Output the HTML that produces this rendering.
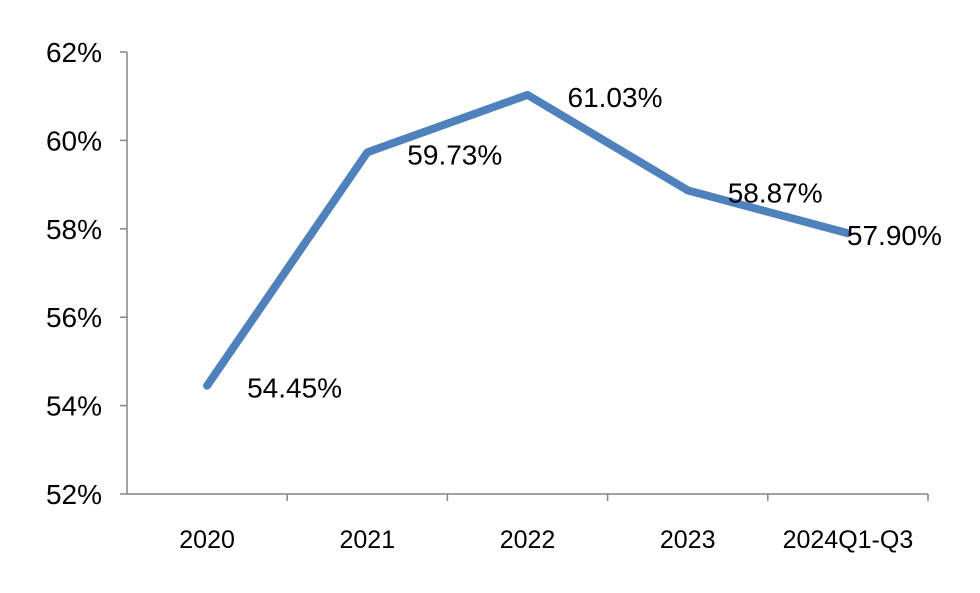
<!DOCTYPE html>
<html><head><meta charset="utf-8"><style>
html,body{margin:0;padding:0;background:#fff;}
svg{display:block;font-family:"Liberation Sans",Arial,sans-serif;}
</style></head><body>
<svg id="chart" width="980" height="593" viewBox="0 0 980 593" xmlns="http://www.w3.org/2000/svg">
<g id="axes"></g>
<g id="series"></g>
</svg>
<script>
const categories = ["2020","2021","2022","2023","2024Q1-Q3"];
const values = [54.45, 59.73, 61.03, 58.87, 57.90];
const valueLabels = ["54.45%","59.73%","61.03%","58.87%","57.90%"];
const yTicks = [52,54,56,58,60,62];
const yTickLabels = ["52%","54%","56%","58%","60%","62%"];

const NS = "http://www.w3.org/2000/svg";
const x0 = 127, x1 = 928, yTop = 52, yBot = 494, yMin = 52, yMax = 62;
const band = (x1 - x0) / categories.length;
const xS = i => x0 + band * (i + 0.5);
const yS = v => yBot - (v - yMin) / (yMax - yMin) * (yBot - yTop);
function mk(tag, attrs, parent){const e=document.createElementNS(NS,tag);for(const k in attrs)e.setAttribute(k,attrs[k]);parent.appendChild(e);return e;}
const axes = document.getElementById('axes');
const series = document.getElementById('series');

let yl = mk('line',{x1:x0,y1:yTop,x2:x0,y2:yBot,stroke:'#868686','stroke-width':1.5},axes);


let xl = mk('line',{x1:x0,y1:yBot,x2:x1,y2:yBot,stroke:'#868686','stroke-width':1.5},axes);



yTicks.forEach((t,i)=>{
  const y = yS(t);
  const tk = mk('line',{x1:x0-7,y1:y,x2:x0,y2:y,stroke:'#868686','stroke-width':1.5},axes);
  
  
  const tx = mk('text',{x:102,y:y+10,'text-anchor':'end','font-size':28,fill:'#000'},axes);
  tx.textContent = yTickLabels[i];
  
  
});
categories.forEach((c,i)=>{
  const tk = mk('line',{x1:x0+band*(i+1),y1:yBot,x2:x0+band*(i+1),y2:yBot+7,stroke:'#868686','stroke-width':1.5},axes);
  
  
  const tx = mk('text',{x:xS(i),y:548,'text-anchor':'middle','font-size':25,fill:'#000'},axes);
  tx.textContent = c;
  
  
});

const pts = values.map((v,i)=>xS(i)+','+yS(v)).join(' ');
const line = mk('polyline',{points:pts,fill:'none',stroke:'#4f81bd','stroke-width':8,'stroke-linejoin':'round','stroke-linecap':'round'},series);



values.forEach((v,i)=>{
  const dx = i === values.length-1 ? -1 : 40;
  const t = mk('text',{x:xS(i)+dx,y:yS(v)+12,'font-size':28,fill:'#000'},series);
  t.textContent = valueLabels[i];
  
  
});
</script>
</body></html>
